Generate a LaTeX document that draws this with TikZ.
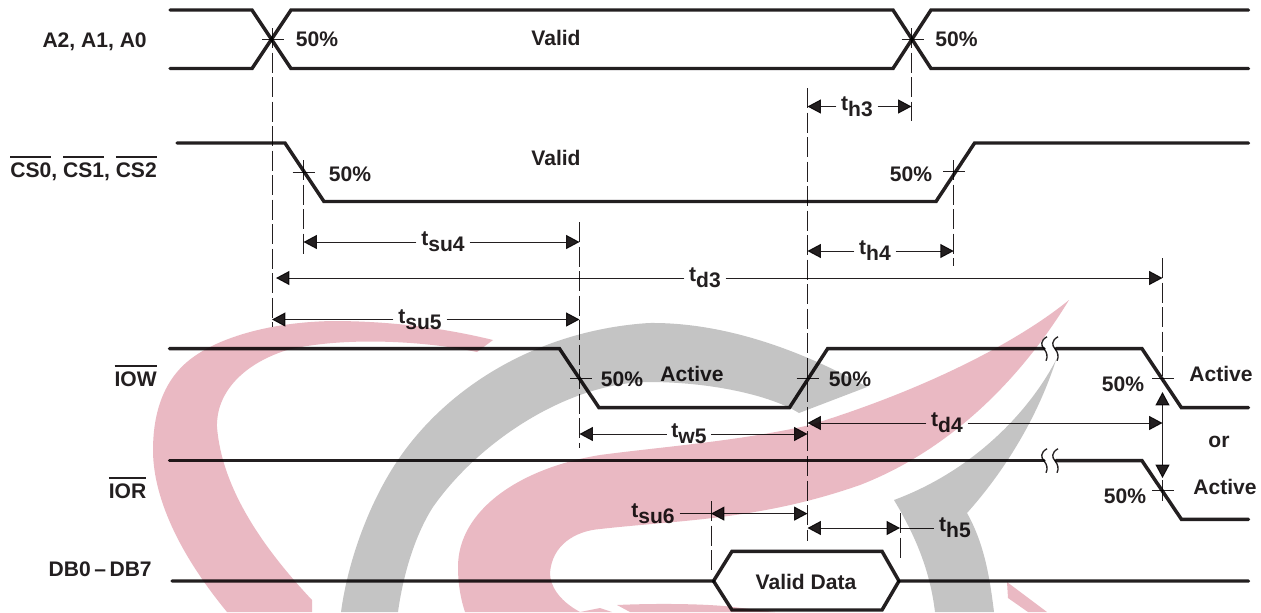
\documentclass[tikz,border=0pt]{standalone}
\usepackage{fontspec}
\setmainfont{Liberation Sans}
\usetikzlibrary{arrows.meta}
\newcommand{\ovl}[1]{\vbox{\hrule height 1.5pt\kern 3.6pt\hbox{#1}}}
\newcommand{\tlab}[2]{t\raisebox{-4.5pt}{#1#2}}
\definecolor{ink}{HTML}{231F20}
\definecolor{wpink}{HTML}{EAB9C3}
\definecolor{wgray}{HTML}{C4C4C4}
\tikzset{
  wave/.style={line width=2.6pt,draw=ink,line join=miter,line cap=round},
  guide/.style={line width=0.7pt,draw=ink,dash pattern=on 15pt off 3.4pt},
  tick/.style={line width=0.7pt,draw=ink},
  dim/.style={line width=0.7pt,draw=ink},
  head/.style={-{Triangle[length=10pt,width=10.5pt,color=ink]}},
  dhead/.style={{Triangle[length=10pt,width=10.5pt,color=ink]}-{Triangle[length=10pt,width=10.5pt,color=ink]}},
  txt/.style={font=\bfseries\fontsize{15.8pt}{17pt}\selectfont,text=ink,inner sep=0pt},
  tl/.style={txt,inner sep=3.5pt},
  brk/.style={line width=1pt,draw=ink},
  wmark/.style={draw=none}
}
\begin{document}
\begin{tikzpicture}[x=0.75pt,y=-0.75pt]
\useasboundingbox (0,0) rectangle (1261,612);
\fill[white] (0,0) rectangle (1261,612);
% watermark
\fill[wpink,wmark] (493,340) .. controls (440,327) and (385,321) .. (333,321)
  .. controls (270,322) and (215,338) .. (187,362)
  .. controls (160,385) and (153,420) .. (153,450)
  .. controls (153,490) and (172,545) .. (227,612)
  -- (312,612) -- (312,600)
  .. controls (265,550) and (222,490) .. (217,427)
  .. controls (216,395) and (240,365) .. (287,350)
  .. controls (340,337) and (420,340) .. (477,352) -- cycle;
\fill[wgray,wmark] (341,612) .. controls (348,560) and (370,500) .. (400,457)
  .. controls (450,385) and (540,330) .. (649,323)
  .. controls (730,322) and (810,355) .. (867,387)
  -- (799,413)
  .. controls (770,395) and (710,382) .. (649,382)
  .. controls (570,382) and (480,440) .. (433,507)
  .. controls (415,535) and (403,575) .. (398,612) -- cycle;
\fill[wpink,wmark] (1069,300) .. controls (1020,340) and (930,388) .. (810,425)
  .. controls (740,441) and (660,447) .. (600,455)
  .. controls (520,468) and (458,510) .. (458,567)
  .. controls (458,585) and (461,600) .. (465,612) -- (580,612)
  .. controls (558,600) and (550,585) .. (550,573)
  .. controls (552,545) and (575,531) .. (600,529)
  .. controls (680,520) and (760,520) .. (860,485)
  .. controls (950,450) and (1020,380) .. (1069,300) -- cycle;
\fill[wpink,wmark] (580,612) -- (600,608) -- (612,612) -- cycle;
\fill[wpink,wmark] (630,612) -- (617,605) .. controls (660,603) and (710,604) .. (733,607) -- (775,612) -- cycle;
\fill[wgray,wmark] (1056,360) .. controls (1040,410) and (1010,465) .. (967,513)
  .. controls (985,545) and (990,580) .. (994,612) -- (935,612)
  .. controls (930,570) and (915,535) .. (894,500)
  .. controls (975,470) and (1030,410) .. (1056,360) -- cycle;
\fill[wpink,wmark] (1007,582) -- (1008,598) -- (1028,612) -- (1047,612) -- cycle;

\begin{scope}[blend mode=multiply]
% key x positions
\coordinate (x272a) at (272,28);   \coordinate (x272b) at (272,327);
\coordinate (x303a) at (303.5,160);\coordinate (x303b) at (303.5,257);
\coordinate (x580a) at (579.5,222);\coordinate (x580b) at (579.5,448);
\coordinate (x808a) at (807.5,88); \coordinate (x808b) at (807.5,541);
\coordinate (x912a) at (911.5,28); \coordinate (x912b) at (911.5,121);
\coordinate (x954a) at (953.7,160);\coordinate (x954b) at (953.7,266);
\coordinate (x711a) at (711,501);  \coordinate (x711b) at (711,570);
\coordinate (x900a) at (900,513);  \coordinate (x900b) at (900,560);
\coordinate (x1163a) at (1162.5,258); \coordinate (x1163b) at (1162.5,381);
\coordinate (x1163c) at (1162.5,480); \coordinate (x1163d) at (1162.5,501);
\coordinate (x1163e) at (1162.5,392);
\coordinate (x1163f) at (1162.5,478);
\foreach \a/\b in {x272a/x272b,x303a/x303b,x580a/x580b,x808a/x808b,x912a/x912b,x954a/x954b,x711a/x711b,x900a/x900b,x1163a/x1163b}
  \draw[guide] (\a) -- (\b);
\draw[tick] (x1163c) -- (x1163d);
\draw[dim,dhead] (x1163e) -- (x1163f);

% waveforms
\draw[wave] (170,10) -- (252,10) -- (291,68.5) -- (893,68.5) -- (931,10) -- (1248.5,10);
\draw[wave] (170,68.5) -- (252,68.5) -- (291,10) -- (893,10) -- (931,68.5) -- (1248.5,68.5);
\draw[wave] (177,143) -- (285,143) -- (324,201.5) -- (936,201.5) -- (974.6,143) -- (1248.5,143);
\draw[wave] (169.5,348.7) -- (559.5,348.7) -- (599,407.7) -- (789.4,407.7) -- (827.6,348.7) -- (1044,348.7);
\draw[wave] (1056,348.7) -- (1142,348.7) -- (1181.4,407.7) -- (1248.5,407.7);
\draw[wave] (169.5,460.7) -- (1044,460.7);
\draw[wave] (1056,460.7) -- (1142,460.7) -- (1181.4,519.3) -- (1248.5,519.3);
\draw[wave] (172,581) -- (713.5,581) -- (732,551.3) -- (882,551.3) -- (899,581) -- (1248.5,581);
\draw[wave] (713.5,581) -- (732,610) -- (882,610) -- (899,581);

% break marks
\foreach \y in {348.7,460.7}{
  \draw[brk] (1047,\y-12) .. controls (1040,\y-8) and (1041,\y-3) .. (1044,\y) .. controls (1047,\y+4) and (1048,\y+8) .. (1046,\y+12);
  \draw[brk] (1058,\y-12) .. controls (1051,\y-8) and (1052,\y-3) .. (1055,\y) .. controls (1058,\y+4) and (1059,\y+8) .. (1057,\y+12);
}

% 50% crosshair ticks
\foreach \x/\y in {262/39,901.5/39,292.5/172,943/171,570/378,796.5/378,1152/378,1152/490}
  \draw[tick] (\x,\y) -- ++(22,0);

% labels
\node[txt,anchor=east] (la) at (147,41.7) {A2, A1, A0};
\node[txt,anchor=base east] (lcs) at (157,177.5) {\ovl{CS0}, \ovl{CS1}, \ovl{CS2}};
\node[txt,anchor=base east] (liow) at (157,386) {\ovl{IOW}};
\node[txt,anchor=base east] (lior) at (146.6,498.5) {\ovl{IOR}};
\node[txt,anchor=east] (ldb) at (152,569) {DB0\,–\,DB7};
\node[txt] (v1) at (556,37.5) {Valid};
\node[txt] (v2) at (556,158) {Valid};
\node[txt] (p1) at (317,39) {50\%};
\node[txt] (p2) at (956.5,39) {50\%};
\node[txt] (p3) at (350,174) {50\%};
\node[txt] (p4) at (911,174) {50\%};
\node[txt] (p5) at (622,379) {50\%};
\node[txt] (p6) at (850,379) {50\%};
\node[txt] (p7) at (1123,384) {50\%};
\node[txt] (p8) at (1125,496.7) {50\%};
\node[txt] (act1) at (692,374) {Active};
\node[txt] (act2) at (1221,373.7) {Active};
\node[txt] (act3) at (1225,487) {Active};
\node[txt] (orr) at (1219,441.7) {or};
\node[txt] (vd) at (806,581.7) {Valid Data};

% dimension labels
\node[tl] (th3) at (857,106.5) {\tlab{h}{3}};
\node[tl] (tsu4) at (443,242) {\tlab{su}{4}};
\node[tl] (th4) at (875,251) {\tlab{h}{4}};
\node[tl] (td3) at (705,278) {\tlab{d}{3}};
\node[tl] (tsu5) at (420,319.5) {\tlab{su}{5}};
\node[tl] (tw5) at (689,434) {\tlab{w}{5}};
\node[tl] (td4) at (947,423) {\tlab{d}{4}};
\node[tl] (tsu6) at (653,513.6) {\tlab{su}{6}};
\node[tl] (th5) at (955,528) {\tlab{h}{5}};

% dimension end points
\coordinate (th3l) at (807.5,106.5); \coordinate (th3r) at (911.5,106.5);
\coordinate (s4l) at (303.5,242);    \coordinate (s4r) at (579.5,242);
\coordinate (h4l) at (807.5,251);    \coordinate (h4r) at (953.7,251);
\coordinate (d3l) at (276,278);      \coordinate (d3r) at (1162.5,278);
\coordinate (s5l) at (272,319.5);    \coordinate (s5r) at (579.5,319.5);
\coordinate (w5l) at (579.5,434);    \coordinate (w5r) at (807.5,434);
\coordinate (d4l) at (807.5,423);    \coordinate (d4r) at (1162.5,423);
\coordinate (s6l) at (711,513.6);    \coordinate (s6r) at (807.5,513.6);
\coordinate (h5l) at (807.5,528);    \coordinate (h5r) at (900,528);

\foreach \n/\l/\r in {th3/th3l/th3r,tsu4/s4l/s4r,th4/h4l/h4r,td3/d3l/d3r,tsu5/s5l/s5r,tw5/w5l/w5r,td4/d4l/d4r}{
  \draw[dim,head] (\n) -- (\l);
  \draw[dim,head] (\n) -- (\r);
}
\draw[dim] (tsu6) -- (s6l);
\draw[dim,dhead] (s6l) -- (s6r);
\draw[dim,dhead] (h5l) -- (h5r);
\draw[dim] (h5r) -- (th5);
\end{scope}
\end{tikzpicture}
\end{document}
